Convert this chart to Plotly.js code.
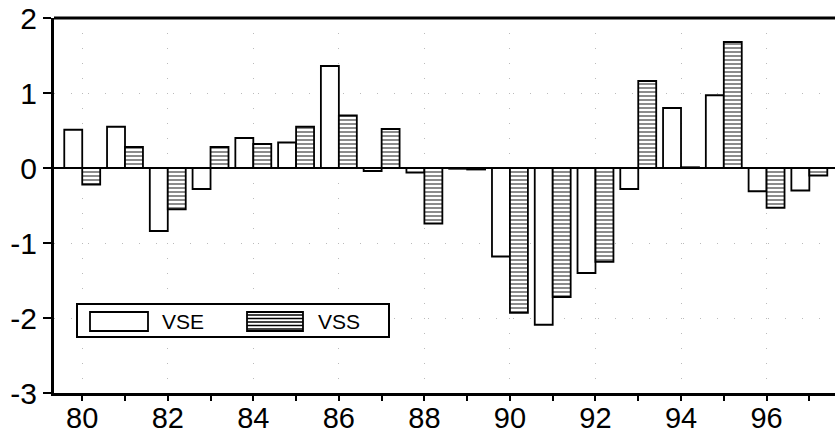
<!DOCTYPE html>
<html>
<head>
<meta charset="utf-8">
<script src="https://cdn.plot.ly/plotly-3.0.1.min.js"></script>
<style>html,body{margin:0;padding:0;background:#fff;}#chart{width:835px;height:434px;}</style>
</head>
<body>
<div id="chart"></div>
<script>
// Data
var years = [80,81,82,83,84,85,86,87,88,89,90,91,92,93,94,95,96,97];
var vse   = [0.51,0.55,-0.84,-0.28,0.40,0.34,1.36,-0.04,-0.06,-0.01,-1.18,-2.09,-1.40,-0.28,0.80,0.97,-0.31,-0.30];
var vss   = [-0.22,0.28,-0.55,0.28,0.32,0.55,0.70,0.52,-0.74,-0.02,-1.93,-1.72,-1.25,1.16,0.01,1.68,-0.53,-0.10];
var xTickVals = [80,82,84,86,88,90,92,94,96];
var xTickText = ['80','82','84','86','88','90','92','94','96'];
var yTickVals = [-3,-2,-1,0,1,2];
var yTickText = ['-3','-2','-1','0','1','2'];
var seriesNames = ['VSE','VSS'];

var W = 835, H = 434;
var mL = 54, mR = 0, mT = 18, mB = 41;
var pw = W - mL - mR, ph = H - mT - mB;
function px(x){ return (x - mL) / pw; }
function py(y){ return (H - mB - y) / ph; }

var traces = [
  {type:'bar', x: years, y: vse, name: seriesNames[0], showlegend:false,
   marker:{color:'#ffffff', line:{color:'#000', width:1.8}}},
  {type:'bar', x: years, y: vss, name: seriesNames[1], showlegend:false,
   marker:{color:'#ffffff', line:{color:'#000', width:1.8},
           pattern:{shape:'-', fgcolor:'#000', bgcolor:'#fff', size:4, solidity:0.45, fillmode:'overlay'}}}
];

var shapes = [];
shapes.push({type:'line', xref:'paper', yref:'paper', x0:0, x1:1, y0:1, y1:1, line:{color:'#000', width:3}});
shapes.push({type:'rect', xref:'paper', yref:'paper', x0:px(77), x1:px(389), y0:py(337), y1:py(304),
  fillcolor:'#fff', line:{color:'#000', width:2}});
shapes.push({type:'rect', xref:'paper', yref:'paper', x0:px(90), x1:px(148), y0:py(331), y1:py(312),
  fillcolor:'#fff', line:{color:'#000', width:1.8}});
shapes.push({type:'rect', xref:'paper', yref:'paper', x0:px(247), x1:px(303), y0:py(331), y1:py(312),
  fillcolor:'#fff', line:{color:'#000', width:1.8}});
for (var yy = 315; yy <= 329; yy += 3.5) {
  shapes.push({type:'line', xref:'paper', yref:'paper', x0:px(247), x1:px(303), y0:py(yy), y1:py(yy),
    line:{color:'#000', width:1.6}});
}

var annotations = [
  {xref:'paper', yref:'paper', x:px(160), y:py(321), text:seriesNames[0], showarrow:false,
   xanchor:'left', yanchor:'middle', font:{family:'Liberation Sans, Arial, sans-serif', size:21, color:'#000'}},
  {xref:'paper', yref:'paper', x:px(316), y:py(321), text:seriesNames[1], showarrow:false,
   xanchor:'left', yanchor:'middle', font:{family:'Liberation Sans, Arial, sans-serif', size:21, color:'#000'}}
];

var layout = {
  width: W, height: H,
  margin: {l:mL, r:mR, t:mT, b:mB, pad:0},
  paper_bgcolor:'#fff', plot_bgcolor:'#fff',
  barmode:'group', bargap:0.16, bargroupgap:0,
  showlegend:false,
  font:{family:'Liberation Sans, Arial, sans-serif', color:'#000'},
  xaxis:{
    range:[79.34, 97.6],
    tickvals: xTickVals, ticktext: xTickText,
    ticks:'outside', ticklen:5, tickwidth:2, tickcolor:'#000',
    ticklabelstandoff:-8,
    minor:{dtick:1, tick0:79, ticks:'outside', ticklen:5, tickwidth:2, tickcolor:'#000', showgrid:false},
    showline:true, linecolor:'#000', linewidth:3,
    showgrid:true, gridcolor:'#bbb', gridwidth:1, griddash:'1px,14px',
    zeroline:false,
    tickfont:{size:29, family:'Liberation Sans, Arial, sans-serif', color:'#000'}
  },
  yaxis:{
    range:[-3, 2],
    tickvals: yTickVals, ticktext: yTickText,
    ticks:'outside', ticklen:8, tickwidth:2, tickcolor:'#000',
    showline:true, linecolor:'#000', linewidth:3,
    showgrid:true, gridcolor:'#bbb', gridwidth:1, griddash:'1px,16px',
    zeroline:true, zerolinecolor:'#000', zerolinewidth:2.5,
    tickfont:{size:30, family:'Liberation Sans, Arial, sans-serif', color:'#000'}
  },
  shapes: shapes,
  annotations: annotations
};

Plotly.newPlot('chart', traces, layout, {staticPlot:true, displayModeBar:false});
</script>
</body>
</html>
